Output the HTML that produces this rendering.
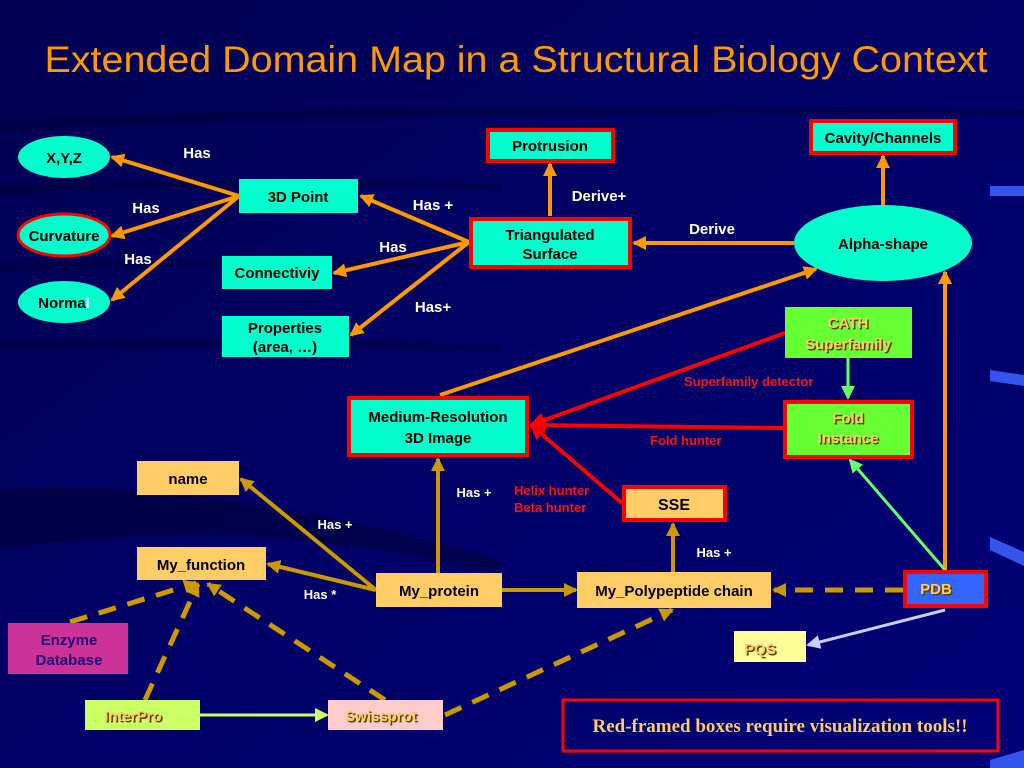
<!DOCTYPE html>
<html><head><meta charset="utf-8"><style>
html,body{margin:0;padding:0;background:#000066;}
svg{display:block;}
</style></head><body>
<svg width="1024" height="768" viewBox="0 0 1024 768" xmlns="http://www.w3.org/2000/svg" font-family="Liberation Sans, sans-serif">
<defs>
<linearGradient id="bg" x1="0" y1="0" x2="1" y2="1">
<stop offset="0" stop-color="#000050"/><stop offset="0.5" stop-color="#000066"/><stop offset="1" stop-color="#000075"/>
</linearGradient>
<marker id="ao" markerWidth="14" markerHeight="14" refX="12" refY="7" orient="auto" markerUnits="userSpaceOnUse"><path d="M0,0 L14,7 L0,14 Z" fill="#ff9900"/></marker>
<marker id="ag" markerWidth="14" markerHeight="14" refX="12" refY="7" orient="auto" markerUnits="userSpaceOnUse"><path d="M0,0 L14,7 L0,14 Z" fill="#cc9900"/></marker>
<marker id="ar" markerWidth="16" markerHeight="16" refX="14" refY="8" orient="auto" markerUnits="userSpaceOnUse"><path d="M0,0 L16,8 L0,16 Z" fill="#ff0000"/></marker>
<marker id="al" markerWidth="14" markerHeight="14" refX="12" refY="7" orient="auto" markerUnits="userSpaceOnUse"><path d="M0,0 L14,7 L0,14 Z" fill="#66ff66"/></marker>
<marker id="ay" markerWidth="14" markerHeight="14" refX="12" refY="7" orient="auto" markerUnits="userSpaceOnUse"><path d="M0,0 L14,7 L0,14 Z" fill="#ccff66"/></marker>
<marker id="av" markerWidth="14" markerHeight="14" refX="12" refY="7" orient="auto" markerUnits="userSpaceOnUse"><path d="M0,0 L14,7 L0,14 Z" fill="#ccccff"/></marker>
</defs>
<rect width="1024" height="768" fill="url(#bg)"/>
<path d="M0,120 Q400,100 1024,110 L1024,116 Q400,108 0,132 Z" fill="#000033" opacity="0.4"/>
<path d="M0,185 Q300,175 500,185 L500,190 Q300,182 0,195 Z" fill="#000033" opacity="0.4"/>
<path d="M0,262 Q200,257 420,262 L420,268 Q200,264 0,272 Z" fill="#000033" opacity="0.4"/>
<path d="M0,340 Q300,337 500,345 L500,352 Q300,346 0,350 Z" fill="#000033" opacity="0.4"/>
<path d="M0,490 Q200,475 500,560 L500,575 Q250,510 0,550 Z" fill="#000022" opacity="0.4"/>
<rect x="990" y="186" width="34" height="10" fill="#3355ee"/>
<path d="M990,370 L1024,375 L1024,386 L990,381 Z" fill="#3355ee"/>
<path d="M990,537 L1024,552 L1024,566 L990,550 Z" fill="#3355ee"/>
<path d="M990,760 L1024,750 L1024,768 L990,768 Z" fill="#3355ee"/>

<text x="516" y="72" text-anchor="middle" font-size="37" fill="#ff9900" textLength="943" lengthAdjust="spacingAndGlyphs">Extended Domain Map in a Structural Biology Context</text>

<g stroke="#ff9900" stroke-width="4" fill="none" marker-end="url(#ao)">
<line x1="239" y1="196" x2="112" y2="157"/>
<line x1="239" y1="196" x2="112" y2="236"/>
<line x1="239" y1="196" x2="112" y2="300"/>
<line x1="469" y1="242" x2="361" y2="196"/>
<line x1="469" y1="242" x2="334" y2="273"/>
<line x1="469" y1="242" x2="351" y2="335"/>
<line x1="550" y1="216" x2="550" y2="164"/>
<line x1="794" y1="243" x2="634" y2="243"/>
<line x1="883" y1="205" x2="883" y2="156"/>
<line x1="440" y1="395" x2="816" y2="269"/>
<line x1="945" y1="570" x2="945" y2="272"/>
</g>
<g stroke="#ff0000" stroke-width="4" fill="none">
<line x1="785" y1="333" x2="531" y2="425" marker-end="url(#ar)"/>
<line x1="783" y1="428" x2="531" y2="425" marker-end="url(#ar)"/>
<line x1="622" y1="503" x2="531" y2="425" marker-end="url(#ar)"/>
</g>
<g stroke="#66ff66" stroke-width="3" fill="none" marker-end="url(#al)">
<line x1="848" y1="358" x2="848" y2="398"/>
<line x1="945" y1="570" x2="850" y2="460"/>
</g>
<line x1="945" y1="610" x2="808" y2="645" stroke="#ccccff" stroke-width="3" marker-end="url(#av)"/>
<line x1="200" y1="715" x2="327" y2="715" stroke="#ccff66" stroke-width="3" marker-end="url(#ay)"/>
<g stroke="#cc9900" stroke-width="4" fill="none" marker-end="url(#ag)">
<line x1="502" y1="590" x2="576" y2="590"/>
<line x1="438" y1="573" x2="438" y2="459"/>
<line x1="673" y1="572" x2="673" y2="524"/>
<line x1="376" y1="590" x2="241" y2="479"/>
<line x1="376" y1="590" x2="268" y2="564"/>
</g>
<g stroke="#cc9900" stroke-width="5" fill="none" stroke-dasharray="18,12" marker-end="url(#ag)">
<line x1="903" y1="590" x2="774" y2="590"/>
<line x1="70" y1="622" x2="196" y2="583"/>
<line x1="145" y1="700" x2="198" y2="584"/>
<line x1="385" y1="700" x2="208" y2="584"/>
<line x1="445" y1="715" x2="672" y2="610"/>
</g>

<g>
<ellipse cx="64" cy="157" rx="46" ry="21" fill="#00ffcc"/>
<ellipse cx="64" cy="235" rx="46" ry="21" fill="#00ffcc" stroke="#ff0000" stroke-width="3"/>
<ellipse cx="64" cy="302" rx="46" ry="21" fill="#00ffcc"/>
<rect x="239" y="179" width="119" height="34" fill="#00ffcc"/>
<rect x="222" y="256" width="110" height="33" fill="#00ffcc"/>
<rect x="222" y="316" width="127" height="41" fill="#00ffcc"/>
<rect x="488" y="130" width="125" height="31" fill="#00ffcc" stroke="#ff0000" stroke-width="4"/>
<rect x="471" y="219" width="159" height="48" fill="#00ffcc" stroke="#ff0000" stroke-width="4"/>
<rect x="811" y="121" width="144" height="32" fill="#00ffcc" stroke="#ff0000" stroke-width="4"/>
<ellipse cx="883" cy="243" rx="89" ry="38" fill="#00ffcc"/>
<rect x="785" y="307" width="127" height="51" fill="#66ff33"/>
<rect x="349" y="398" width="178" height="57" fill="#00ffcc" stroke="#ff0000" stroke-width="4"/>
<rect x="785" y="402" width="127" height="55" fill="#66ff33" stroke="#ff0000" stroke-width="4"/>
<rect x="624" y="487" width="101" height="33" fill="#ffcc66" stroke="#ff0000" stroke-width="4"/>
<rect x="137" y="461" width="102" height="34" fill="#ffcc66"/>
<rect x="137" y="547" width="129" height="33" fill="#ffcc66"/>
<rect x="376" y="573" width="126" height="34" fill="#ffcc66"/>
<rect x="577" y="572" width="194" height="36" fill="#ffcc66"/>
<rect x="905" y="572" width="81" height="34" fill="#3366ff" stroke="#ff0000" stroke-width="4"/>
<rect x="734" y="631" width="72" height="31" fill="#ffff99"/>
<rect x="8" y="623" width="120" height="51" fill="#cc3399"/>
<rect x="85" y="700" width="115" height="30" fill="#ccff66"/>
<rect x="328" y="700" width="115" height="30" fill="#ffcccc"/>
<rect x="563" y="700" width="435" height="51" fill="none" stroke="#ff0000" stroke-width="3"/>
</g>

<g font-size="15" fill="#000" text-anchor="middle" font-weight="bold">
<text x="64" y="163">X,Y,Z</text>
<text x="64" y="241">Curvature</text>
<text x="64" y="308">Norma<tspan fill="#fff">l</tspan></text>
<text x="298" y="202">3D Point</text>
<text x="277" y="278">Connectiviy</text>
<text x="285" y="333">Properties</text>
<text x="285" y="352">(area, …)</text>
<text x="550" y="151">Protrusion</text>
<text x="550" y="240">Triangulated</text>
<text x="550" y="259">Surface</text>
<text x="883" y="143">Cavity/Channels</text>
<text x="883" y="249">Alpha-shape</text>
<text x="438" y="422">Medium-Resolution</text>
<text x="438" y="443">3D Image</text>
<text x="674" y="510" font-size="16">SSE</text>
<text x="188" y="484">name</text>
<text x="201" y="570">My_function</text>
<text x="439" y="596">My_protein</text>
<text x="674" y="596">My_Polypeptide chain</text>
</g>
<g font-size="15" text-anchor="middle" font-weight="bold">
<g fill="#554400" transform="translate(1.5,1.5)">
<text x="848" y="328">CATH</text><text x="848" y="349">Superfamily</text>
<text x="848" y="423">Fold</text><text x="848" y="443">Instance</text>
<text x="936" y="594">PDB</text><text x="760" y="654">PQS</text>
<text x="133" y="721">InterPro</text><text x="381" y="721">Swissprot</text>
</g>
<g fill="#ffcc66">
<text x="848" y="328">CATH</text><text x="848" y="349">Superfamily</text>
<text x="848" y="423">Fold</text><text x="848" y="443">Instance</text>
<text x="936" y="594">PDB</text><text x="760" y="654">PQS</text>
<text x="133" y="721">InterPro</text><text x="381" y="721">Swissprot</text>
</g>
<g fill="#220077">
<text x="69" y="645">Enzyme</text>
<text x="69" y="665">Database</text>
</g>
</g>

<g font-size="15" fill="#fff" text-anchor="middle" font-weight="bold">
<text x="197" y="158">Has</text>
<text x="146" y="213">Has</text>
<text x="138" y="264">Has</text>
<text x="433" y="210">Has +</text>
<text x="393" y="252">Has</text>
<text x="433" y="312">Has+</text>
<text x="599" y="201">Derive+</text>
<text x="712" y="234">Derive</text>
</g>
<g font-size="13" fill="#fff" text-anchor="middle" font-weight="bold">
<text x="474" y="497">Has +</text>
<text x="335" y="529">Has +</text>
<text x="320" y="599">Has *</text>
<text x="714" y="557">Has +</text>
</g>
<g font-size="13" fill="#ff1111" font-weight="bold">
<text x="684" y="386">Superfamily detector</text>
<text x="650" y="445">Fold hunter</text>
<text x="514" y="495">Helix hunter</text>
<text x="514" y="512">Beta hunter</text>
</g>
<text x="780" y="732" text-anchor="middle" font-size="19" font-weight="bold" fill="#ffcc66" font-family="Liberation Serif, serif">Red-framed boxes require visualization tools!!</text>
</svg>
</body></html>
